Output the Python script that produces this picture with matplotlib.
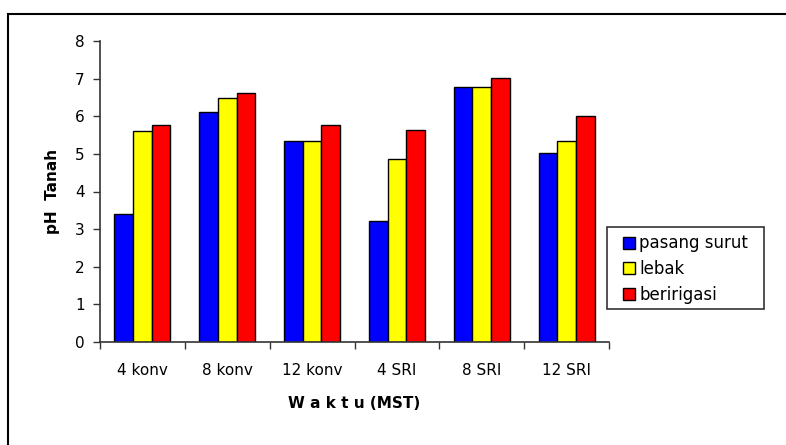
import numpy as np
import matplotlib.pyplot as plt
from matplotlib.patches import Rectangle

# data
categories = ['4 konv', '8 konv', '12 konv', '4 SRI', '8 SRI', '12 SRI']
pasang_surut = [3.40, 6.12, 5.35, 3.22, 6.78, 5.03]
lebak = [5.61, 6.49, 5.35, 4.87, 6.78, 5.35]
beririgasi = [5.77, 6.62, 5.77, 5.64, 7.02, 6.01]
series_names = ['pasang surut', 'lebak', 'beririgasi']
colors = ['#0000ff', '#ffff00', '#ff0000']

plt.rcParams['font.family'] = ['DejaVu Sans']

fig = plt.figure(figsize=(7.86, 4.45), dpi=100)
W, H = 786, 445

# outer chart border (only left and top visible in the reference)
fig.patches.append(Rectangle((8 / W, -0.1), 1.2, (445 - 14) / H + 0.1,
                             transform=fig.transFigure, fill=False,
                             edgecolor='black', linewidth=1.5))
# legend box, drawn by hand so the padding can be wider than tall
fig.patches.append(Rectangle((607 / W, 1 - 309 / H), 157 / W, 82 / H,
                             transform=fig.transFigure, fill=False,
                             edgecolor='#333333', linewidth=1.2))

ax = fig.add_axes([100 / W, 1 - 342 / H, (609 - 100) / W, (342 - 41) / H])

x = np.arange(len(categories))
bw = 0.22
for i, (vals, name) in enumerate(zip([pasang_surut, lebak, beririgasi], series_names)):
    ax.bar(x + (i - 1) * bw, vals, bw, color=colors[i], edgecolor='black',
           linewidth=1.0, label=name)

ax.set_xlim(-0.5, len(categories) - 0.5)
ax.set_ylim(0, 8)
ax.set_yticks(range(0, 9))
ax.set_xticks(x)
ax.set_xticklabels(categories, fontsize=11)
ax.set_xticks(np.arange(-0.5, len(categories)), minor=True)
ax.tick_params(axis='x', which='major', length=0, pad=15)
ax.tick_params(axis='x', which='minor', length=5, width=1, color='#333333')
ax.tick_params(axis='y', length=5, width=1, color='#333333', labelsize=11, pad=6)

for s in ['top', 'right']:
    ax.spines[s].set_visible(False)
for s in ['left', 'bottom']:
    ax.spines[s].set_color('#333333')
    ax.spines[s].set_linewidth(1.2)

ax.set_ylabel('pH  Tanah', fontsize=11, fontweight='bold', labelpad=11)
ax.set_xlabel('W a k t u (MST)', fontsize=11, fontweight='bold', labelpad=13)

leg = ax.legend(loc='upper left', bbox_to_anchor=(623 / W, 1 - 234.5 / H),
                bbox_transform=fig.transFigure, fontsize=12, frameon=False,
                handlelength=0.7, handleheight=0.7, handletextpad=0.27,
                borderpad=0, labelspacing=0.45, borderaxespad=0)

fig.savefig('out.png', dpi=100)
